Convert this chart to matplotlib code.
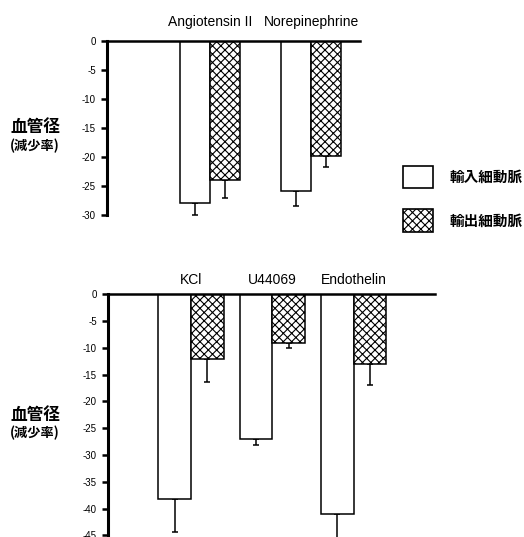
import matplotlib
matplotlib.use('Agg')
import matplotlib.pyplot as plt
import numpy as np
from matplotlib.patches import Rectangle

plt.rcParams['font.family'] = ['Liberation Sans', 'Noto Sans CJK JP']
plt.rcParams['hatch.linewidth'] = 0.8

# upper panel
top_groups = ['Angiotensin II', 'Norepinephrine']
top_afferent = [-28.0, -25.8]
top_afferent_err = [2.0, 2.6]
top_efferent = [-24.0, -19.8]
top_efferent_err = [3.0, 1.9]
top_yticks = [0, -5, -10, -15, -20, -25, -30]

# lower panel
bot_groups = ['KCl', 'U44069', 'Endothelin']
bot_afferent = [-38.3, -27.1, -41.0]
bot_afferent_err = [6.1, 1.0, 5.5]
bot_efferent = [-12.0, -9.0, -13.0]
bot_efferent_err = [4.3, 1.0, 4.0]
bot_yticks = [0, -5, -10, -15, -20, -25, -30, -35, -40, -45]

legend_labels = ['輸入細動脈', '輸出細動脈']
ylabel_main = '血管径'
ylabel_sub = '(減少率)'

HATCH = 'xxxx'
W, H = 524, 537
fig = plt.figure(figsize=(W / 100, H / 100), dpi=100)


def px(x, y):
    return x / W, 1 - y / H


def panel(rect, groups, aff, aff_err, eff, eff_err, yticks, ylim, width, xlim, lab_off):
    ax = fig.add_axes(rect)
    x = np.arange(len(groups))
    ax.bar(x - width / 2, aff, width, color='white', edgecolor='black', linewidth=1.1, zorder=2)
    ax.bar(x + width / 2, eff, width, color='white', edgecolor='black', linewidth=1.1,
           hatch=HATCH, zorder=2)
    for xs, vals, errs in [(x - width / 2, aff, aff_err), (x + width / 2, eff, eff_err)]:
        ax.errorbar(xs, vals, yerr=[errs, np.zeros(len(errs))], fmt='none', ecolor='black',
                    elinewidth=1.1, capsize=2.5, capthick=1.1, zorder=1, clip_on=False)
    ax.set_xlim(*xlim)
    ax.set_ylim(*ylim)
    ax.set_yticks(yticks)
    ax.set_yticklabels([str(t) for t in yticks])
    ax.set_xticks([])
    for s in ['right', 'bottom']:
        ax.spines[s].set_visible(False)
    ax.spines['left'].set_linewidth(2.2)
    ax.spines['top'].set_linewidth(1.8)
    ax.tick_params(axis='y', direction='out', length=4, width=1.8, labelsize=7, pad=4)
    for xi, g in zip(x, groups):
        ax.annotate(g, (xi, 0), xytext=(0, lab_off), textcoords='offset points',
                    ha='center', va='center', fontsize=10, annotation_clip=False)
    return ax


# upper axes: left 107px, right 360px, top 41px, bottom 215px
l, t = px(107, 41.3)
r, b = px(360, 215)
panel([l, b, r - l, t - b], top_groups, top_afferent, top_afferent_err, top_efferent,
      top_efferent_err, top_yticks, (-30, 0), 0.30, (-1.02, 1.485), 14)

# lower axes, cut off at the bottom edge like the source
l, t = px(108, 294.3)
r, b = px(435, 537)
panel([l, b, r - l, t - b], bot_groups, bot_afferent, bot_afferent_err, bot_efferent,
      bot_efferent_err, bot_yticks, (-45.3, 0), 0.40, (-1.02, 3.0), 10)

# y labels
for y1, y2 in [(127, 146), (415, 433)]:
    fig.text(*px(35, y1), ylabel_main, ha='center', va='center', fontsize=12,
             fontweight='bold', family=['Noto Sans CJK JP'])
    fig.text(*px(35, y2), ylabel_sub, ha='center', va='center', fontsize=9.5,
             fontweight='bold', family=['Noto Sans CJK JP'])

# legend
for i, (y0, y1) in enumerate([(166, 188), (209, 232)]):
    x0, yb = px(403, y1)
    x1, yt = px(433, y0)
    fig.add_artist(Rectangle((x0, yb), x1 - x0, yt - yb, transform=fig.transFigure,
                             facecolor='white', edgecolor='black', linewidth=1.2,
                             hatch=HATCH if i == 1 else None))
    fig.text(*px(450, (y0 + y1) / 2), legend_labels[i], ha='left', va='center',
             fontsize=10.5, fontweight='bold', family=['Noto Sans CJK JP'])

fig.savefig('out.png', dpi=100)
